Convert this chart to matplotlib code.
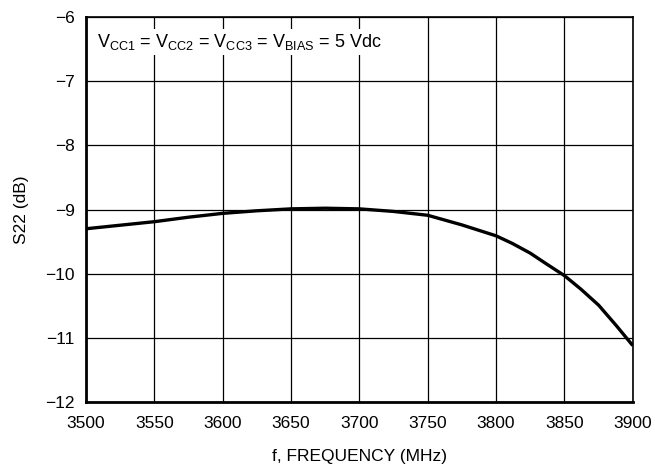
import numpy as np
import matplotlib.pyplot as plt

plt.rcParams['font.family'] = ['Liberation Sans Narrow', 'Liberation Sans', 'DejaVu Sans']

# S22 versus frequency
freq = [3500, 3525, 3550, 3575, 3600, 3625, 3650, 3675, 3700, 3725,
        3750, 3775, 3800, 3812, 3825, 3837, 3850, 3862, 3875, 3888, 3900]
s22 = [-9.30, -9.245, -9.19, -9.12, -9.06, -9.02, -8.99, -8.98, -8.99, -9.03,
       -9.09, -9.24, -9.41, -9.53, -9.68, -9.85, -10.03, -10.24, -10.49, -10.81, -11.12]
xticks = [3500, 3550, 3600, 3650, 3700, 3750, 3800, 3850, 3900]
yticks = [-12, -11, -10, -9, -8, -7, -6]

fig = plt.figure(figsize=(6.55, 4.71), dpi=100)
ax = fig.add_axes([0.1313, 0.1465, 0.8347, 0.8174])

ax.plot(freq, s22, color='black', lw=2.4, solid_joinstyle='round', solid_capstyle='butt')

ax.set_xlim(3500, 3900)
ax.set_ylim(-12, -6)
ax.set_xticks(xticks)
ax.set_yticks(yticks)
ax.grid(True, color='black', lw=0.9)
ax.tick_params(direction='in', length=0, labelsize=12.5)
ax.tick_params(axis='x', pad=10)
ax.tick_params(axis='y', pad=8)
for s in ax.spines.values():
    s.set_linewidth(1.2)
ax.spines['left'].set_linewidth(2)
ax.spines['bottom'].set_linewidth(2)

ax.set_xlabel('f, FREQUENCY (MHz)', fontsize=12.5, labelpad=13)
ax.set_ylabel('S22 (dB)', fontsize=12.5, labelpad=12)

ax.text(0.02, 0.935,
        r'V$_{\mathregular{CC1}}$ = V$_{\mathregular{CC2}}$ = V$_{\mathregular{CC3}}$ = V$_{\mathregular{BIAS}}$ = 5 Vdc',
        transform=ax.transAxes, fontsize=13, va='center', ha='left',
        bbox=dict(facecolor='white', edgecolor='none', pad=2))

fig.savefig('out.png', dpi=100)
